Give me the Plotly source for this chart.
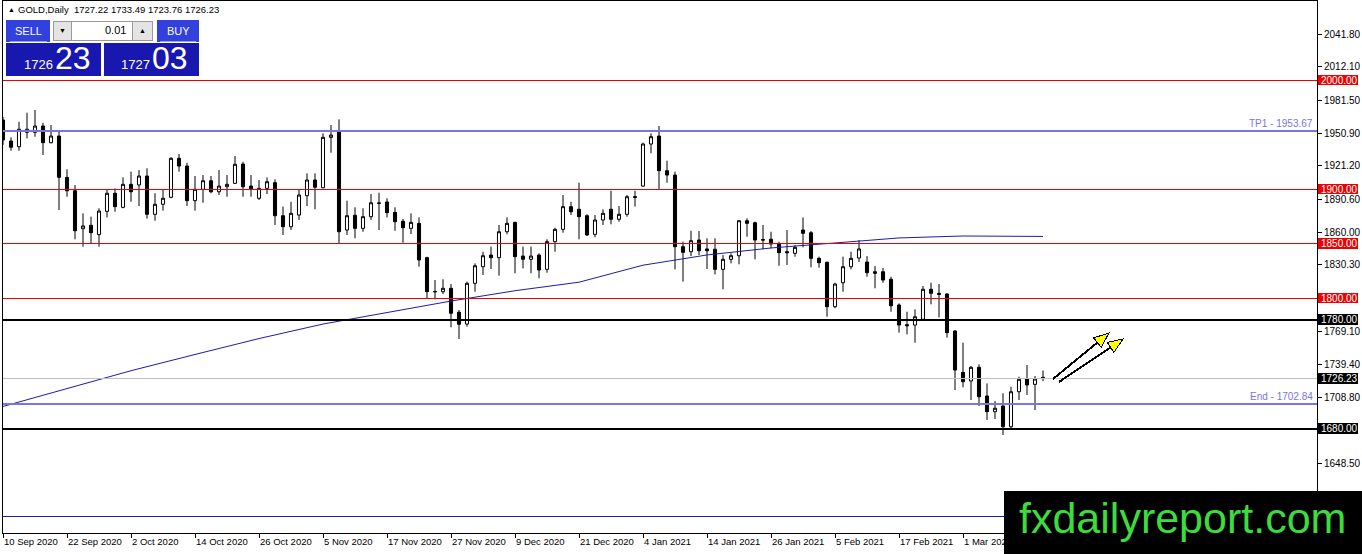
import pandas as pd
import plotly.graph_objects as go

# daily bars, 10 Sep 2020 .. 15 Mar 2021 (no bars on 25 Dec / 1 Jan)
dates = pd.bdate_range("2020-09-10", "2021-03-15", freq="C",
                       holidays=["2020-12-25", "2021-01-01"])
days = [d.strftime("%Y-%m-%d") for d in dates]

opens = [1963.3, 1944.0, 1938.8, 1952.0, 1952.0, 1957.8, 1942.5, 1948.6, 1910.7, 1898.4,
         1863.6, 1866.7, 1858.1, 1879.5, 1896.1, 1883.2, 1904.3, 1903.7, 1911.9, 1876.8,
         1886.0, 1892.4, 1928.2, 1921.1, 1889.3, 1899.7, 1907.6, 1897.5, 1902.1, 1905.2,
         1922.9, 1902.7, 1891.5, 1900.6, 1905.8, 1875.5, 1865.4, 1876.1, 1893.9, 1908.3,
         1901.2, 1947.4, 1952.6, 1862.4, 1875.9, 1863.9, 1874.6, 1886.8, 1888.1, 1878.6,
         1870.4, 1863.9, 1868.5, 1837.0, 1805.6, 1805.8, 1808.9, 1786.9, 1776.1, 1813.5,
         1828.7, 1839.4, 1837.0, 1860.8, 1869.4, 1838.5, 1835.5, 1839.4, 1826.3, 1851.7,
         1863.0, 1883.8, 1881.4, 1875.5, 1858.4, 1871.6, 1881.4, 1872.2, 1876.8, 1893.0,
         1902.7, 1941.3, 1948.6, 1916.8, 1912.8, 1847.1, 1842.5, 1853.2, 1845.0, 1844.7,
         1826.3, 1835.5, 1838.8, 1870.9, 1869.1, 1853.6, 1853.9, 1849.5, 1842.5, 1841.0,
         1862.4, 1859.9, 1836.4, 1832.8, 1792.0, 1814.0, 1828.7, 1836.7, 1833.0, 1824.1,
         1824.1, 1817.2, 1793.6, 1775.5, 1775.2, 1780.5, 1808.0, 1804.3, 1803.7, 1769.7,
         1731.8, 1723.9, 1736.4, 1710.1, 1695.7, 1700.9, 1681.9, 1714.0, 1725.7, 1720.8,
         1727.22]
highs = [1966.1, 1947.4, 1961.7, 1970.0, 1972.5, 1960.8, 1958.7, 1952.6, 1918.1, 1903.7,
         1877.7, 1874.6, 1882.3, 1899.1, 1900.6, 1910.7, 1915.9, 1917.4, 1919.0, 1896.1,
         1899.1, 1929.1, 1932.1, 1924.1, 1911.9, 1912.8, 1911.9, 1917.4, 1912.8, 1930.3,
         1925.0, 1912.8, 1908.3, 1910.7, 1908.9, 1883.8, 1888.3, 1899.1, 1914.4, 1914.4,
         1951.1, 1958.7, 1963.9, 1889.3, 1883.2, 1882.3, 1895.4, 1896.6, 1891.5, 1883.2,
         1872.5, 1877.7, 1874.0, 1837.9, 1816.5, 1817.2, 1812.8, 1789.0, 1815.0, 1831.8,
         1842.5, 1847.1, 1867.0, 1874.0, 1870.0, 1847.1, 1847.1, 1841.0, 1853.9, 1864.5,
         1894.5, 1888.3, 1905.8, 1876.8, 1876.1, 1881.4, 1898.4, 1884.4, 1894.5, 1898.4,
         1942.5, 1951.1, 1957.8, 1926.0, 1915.9, 1851.7, 1861.7, 1861.5, 1854.8, 1854.8,
         1839.4, 1841.0, 1871.6, 1873.1, 1870.0, 1867.0, 1860.8, 1851.7, 1862.4, 1848.6,
         1874.0, 1861.5, 1837.9, 1833.3, 1814.0, 1837.9, 1842.5, 1853.2, 1838.5, 1829.4,
         1827.5, 1819.5, 1795.1, 1787.4, 1789.6, 1811.0, 1814.0, 1812.8, 1804.3, 1770.6,
         1759.0, 1737.6, 1739.2, 1721.7, 1705.5, 1712.6, 1718.6, 1727.8, 1738.5, 1728.4,
         1733.49]
lows = [1940.4, 1935.1, 1935.1, 1946.5, 1948.0, 1931.2, 1941.9, 1880.7, 1892.9, 1853.9,
        1847.1, 1850.2, 1847.1, 1874.0, 1879.2, 1882.3, 1888.3, 1884.4, 1872.8, 1870.9,
        1880.1, 1891.5, 1915.9, 1884.4, 1880.1, 1887.4, 1896.1, 1894.5, 1892.9, 1904.6,
        1892.9, 1892.9, 1889.9, 1895.4, 1867.0, 1857.8, 1862.4, 1871.6, 1884.4, 1881.4,
        1900.6, 1933.3, 1849.5, 1857.8, 1854.8, 1860.8, 1871.6, 1862.4, 1874.0, 1861.7,
        1850.7, 1858.7, 1828.7, 1799.7, 1798.8, 1803.7, 1773.1, 1762.4, 1773.7, 1805.8,
        1821.1, 1826.6, 1820.5, 1858.4, 1822.7, 1827.2, 1822.7, 1818.1, 1823.2, 1842.5,
        1859.9, 1876.1, 1853.9, 1856.9, 1855.7, 1867.0, 1867.6, 1870.0, 1874.6, 1883.8,
        1902.1, 1932.8, 1899.1, 1905.8, 1826.3, 1815.0, 1838.5, 1839.4, 1826.6, 1821.7,
        1808.0, 1831.8, 1830.9, 1856.2, 1835.5, 1844.7, 1845.6, 1829.6, 1830.3, 1837.9,
        1846.5, 1828.2, 1827.8, 1782.8, 1790.6, 1805.8, 1826.3, 1833.0, 1819.5, 1808.9,
        1814.0, 1787.4, 1768.2, 1766.7, 1759.0, 1779.8, 1794.2, 1782.3, 1763.6, 1715.6,
        1718.1, 1706.4, 1700.9, 1688.1, 1689.0, 1674.3, 1679.5, 1706.4, 1711.0, 1697.2,
        1723.76]
closes = [1945.0, 1938.3, 1954.8, 1954.8, 1957.8, 1942.5, 1948.6, 1910.7, 1898.4, 1861.7,
          1866.1, 1859.9, 1879.8, 1896.1, 1883.8, 1904.3, 1897.5, 1911.9, 1876.8, 1886.0,
          1891.5, 1928.2, 1921.1, 1889.3, 1899.7, 1907.6, 1897.5, 1902.7, 1904.3, 1922.7,
          1902.1, 1899.7, 1900.6, 1906.7, 1875.5, 1865.4, 1877.7, 1894.5, 1908.3, 1901.6,
          1947.4, 1949.5, 1860.8, 1875.5, 1863.9, 1874.6, 1887.4, 1887.2, 1878.3, 1870.0,
          1864.5, 1869.4, 1834.9, 1805.8, 1806.0, 1808.9, 1786.0, 1775.9, 1813.5, 1829.6,
          1838.8, 1837.0, 1860.8, 1868.5, 1837.9, 1835.5, 1838.5, 1825.7, 1851.7, 1863.0,
          1883.8, 1879.2, 1874.6, 1857.8, 1871.6, 1877.7, 1872.2, 1876.8, 1892.9, 1892.4,
          1941.3, 1948.0, 1916.8, 1912.8, 1847.1, 1841.9, 1852.6, 1843.4, 1843.4, 1826.3,
          1835.5, 1838.8, 1870.9, 1868.5, 1853.2, 1853.2, 1849.5, 1841.6, 1841.6, 1846.5,
          1859.4, 1836.4, 1832.4, 1792.0, 1812.8, 1828.7, 1836.4, 1845.0, 1823.2, 1822.7,
          1816.5, 1792.9, 1775.2, 1774.6, 1782.8, 1808.0, 1804.3, 1803.4, 1768.2, 1733.9,
          1723.2, 1736.4, 1709.4, 1695.7, 1698.8, 1681.9, 1714.0, 1725.4, 1720.2, 1725.7,
          1726.23]

# moving average, read every 8 bars
ma_days = [days[i] for i in range(0, 131, 8)] + [days[-1]]
ma_values = [1700.5, 1716.8, 1733.3, 1748.2, 1762.8, 1776.1, 1786.5, 1797.2, 1806.7,
             1814.5, 1830.1, 1839.5, 1845.9, 1850.6, 1855.1, 1856.9, 1856.9, 1856.5]

red_levels = [2000.00, 1900.00, 1850.00, 1800.00]
black_levels = [1780.00, 1680.00]
tp_level = 1953.67
end_level = 1702.84
low_level = 1600.00
bid = closes[-1]
ask = 1727.03
lot = "0.01"

y_ticks = [2041.80, 2012.10, 1981.50, 1950.90, 1921.20, 1890.60, 1860.00, 1830.30,
           1769.10, 1739.40, 1708.80, 1648.50]
# the label of 11 Mar sits under the watermark, so it is left out
tick_days = days[:121:8]
tick_text = [f"{d.day} {d:%b %Y}" for d in dates[:121:8]]

FONT = "Liberation Sans, Arial, sans-serif"


# pixel -> paper helpers for the decorations
def px(x):
    return (x - 3) / 1314


def py(y):
    return (533 - y) / 532


fig = go.Figure()
fig.add_trace(go.Candlestick(
    x=days, open=opens, high=highs, low=lows, close=closes,
    increasing=dict(line=dict(color="black", width=1), fillcolor="white"),
    decreasing=dict(line=dict(color="black", width=1), fillcolor="black"),
    whiskerwidth=0, showlegend=False, hoverinfo="skip"))
fig.add_trace(go.Scatter(x=ma_days, y=ma_values, mode="lines",
                         line=dict(color="#1c1ca8", width=1),
                         showlegend=False, hoverinfo="skip"))

shapes = []
ann = []


def hline(v, color, w):
    shapes.append(dict(type="line", xref="paper", x0=0, x1=1, yref="y", y0=v, y1=v,
                       line=dict(color=color, width=w), layer="above"))


def price_tag(v, fill):
    shapes.append(dict(type="rect", xref="paper", x0=px(1318), x1=px(1358),
                       yref="y", y0=v - 4.9, y1=v + 4.9, fillcolor=fill,
                       line=dict(width=0), layer="above"))
    ann.append(dict(xref="paper", x=px(1319), xanchor="left", yref="y", y=v,
                    yanchor="middle", text=f"{v:.2f}", showarrow=False,
                    font=dict(family=FONT, size=10, color="white")))


hline(low_level, "#1c1ca8", 1)
for v in red_levels:
    hline(v, "#ee0000", 1)
    price_tag(v, "#ee0000")
hline(bid, "#c0c0c0", 1)
price_tag(bid, "black")
for v in black_levels:
    hline(v, "black", 2)
    price_tag(v, "black")
for v, name in [(tp_level, "TP1"), (end_level, "End")]:
    hline(v, "#7676e6", 2)
    ann.append(dict(xref="paper", x=px(1315), xanchor="right", yref="y", y=v,
                    yanchor="bottom", text=f"{name} - {v:.2f}", showarrow=False,
                    font=dict(family=FONT, size=10, color="#7676e6")))

# arrows with yellow heads
for (tx, ty), (hx, hy) in [((1053, 379), (1109, 333)), ((1059, 382), (1123, 339))]:
    dx, dy = hx - tx, hy - ty
    n = (dx * dx + dy * dy) ** 0.5
    ux, uy = dx / n, dy / n
    bx, by = hx - 15 * ux, hy - 15 * uy
    shapes.append(dict(type="line", xref="paper", yref="paper",
                       x0=px(tx), y0=py(ty), x1=px(bx), y1=py(by),
                       line=dict(color="black", width=2), layer="above"))
    c1 = (bx - 6 * uy, by + 6 * ux)
    c2 = (bx + 6 * uy, by - 6 * ux)
    path = (f"M{px(hx)},{py(hy)} L{px(c1[0])},{py(c1[1])} "
            f"L{px(c2[0])},{py(c2[1])} Z")
    shapes.append(dict(type="path", xref="paper", yref="paper", path=path,
                       fillcolor="#ffff00", line=dict(color="black", width=1),
                       layer="above"))

# one-click trading panel
for x0, y0, x1, y1, fill, edge in [
        (6, 20, 50, 42, "#3340e0", None), (157, 20, 199, 42, "#3340e0", None),
        (53, 21, 71, 40, "#e4e4e4", "#9a9a9a"), (71, 21, 132, 40, "white", "#9a9a9a"),
        (132, 21, 152, 40, "#e4e4e4", "#9a9a9a"),
        (6, 43, 101, 76, "#1818b0", None), (104, 43, 199, 76, "#1818b0", None)]:
    shapes.append(dict(type="rect", xref="paper", yref="paper",
                       x0=px(x0), x1=px(x1), y0=py(y1), y1=py(y0), fillcolor=fill,
                       line=dict(color=edge or fill, width=1 if edge else 0),
                       layer="above"))
for x0, x1 in [(10, 47), (160, 196)]:
    shapes.append(dict(type="line", xref="paper", yref="paper", x0=px(x0), x1=px(x1),
                       y0=py(41), y1=py(41), line=dict(color="#9aa0f0", width=1),
                       layer="above"))


def label(x, y, text, size, color, anchor="center"):
    ann.append(dict(xref="paper", yref="paper", x=px(x), y=py(y), xanchor=anchor,
                    yanchor="middle", text=text, showarrow=False,
                    font=dict(family=FONT, size=size, color=color)))


label(28, 31, "SELL", 11, "white")
label(178, 31, "BUY", 11, "white")
label(128, 30, lot, 11, "black", "right")
label(62, 30, "▼", 7, "black")
label(142, 30, "▲", 7, "black")
for x, price in [(22, bid), (119, ask)]:
    big, small = f"{price:.2f}".split(".")
    label(x, 64, big, 13, "white", "left")
    label(x + 31, 58, small, 32, "white", "left")

# header
label(6, 10, "▲", 7, "black", "left")
label(16, 10, f"GOLD,Daily  {opens[-1]:.2f} {highs[-1]:.2f} {lows[-1]:.2f} {closes[-1]:.2f}",
      9.5, "black", "left")

# watermark
shapes.append(dict(type="rect", xref="paper", yref="paper", x0=px(1004), x1=px(1362),
                   y0=py(554), y1=py(491), fillcolor="black", line=dict(width=0),
                   layer="above"))
label(1182, 518, "fxdailyreport.com", 43, "#3ddc3d")

fig.update_layout(
    width=1362, height=554,
    margin=dict(l=3, r=45, t=1, b=21, autoexpand=False),
    paper_bgcolor="white", plot_bgcolor="white",
    boxgap=0.45, hovermode=False, showlegend=False,
    shapes=shapes, annotations=ann,
    font=dict(family=FONT, size=10, color="black"),
    xaxis=dict(type="category", range=[0, 164.25], rangeslider=dict(visible=False),
               tickmode="array", tickvals=tick_days, ticktext=tick_text,
               tickangle=0, automargin=False, tickfont=dict(size=9.5),
               ticks="outside", ticklen=4, tickcolor="black",
               ticklabelposition="outside right",
               showline=True, linecolor="black", linewidth=1, mirror=True,
               showgrid=False, zeroline=False, fixedrange=True),
    yaxis=dict(side="right", range=[1584.4, 2072.5], automargin=False,
               tickmode="array", tickvals=y_ticks, ticktext=[f"{v:.2f}" for v in y_ticks],
               ticks="outside", ticklen=4, tickcolor="black",
               showline=True, linecolor="black", linewidth=1, mirror=True,
               showgrid=False, zeroline=False, fixedrange=True),
)

# MetaTrader draws without anti-aliasing
fig.write_html("out.html", config={"displayModeBar": False},
               post_script="document.body.style.margin='0';"
                           "document.querySelectorAll('.shapelayer path')"
                           ".forEach(function(p){p.style.shapeRendering='crispEdges';});")
